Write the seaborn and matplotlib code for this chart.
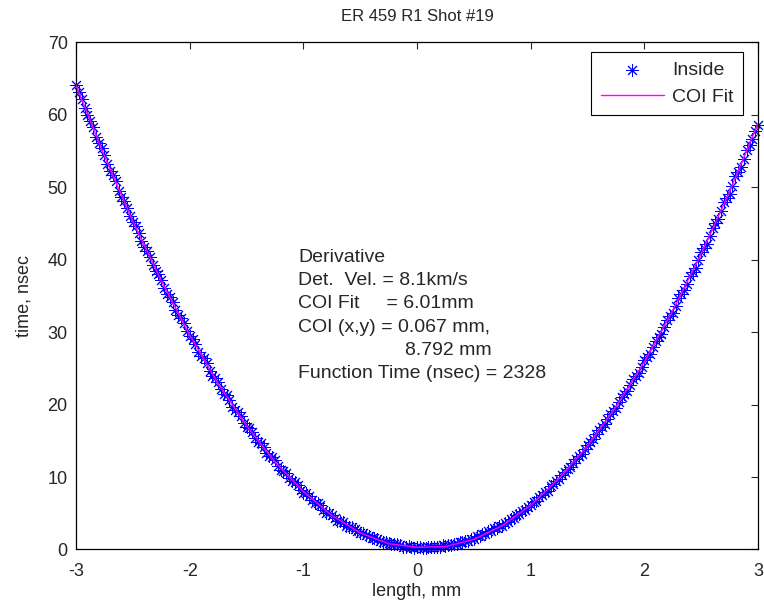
import numpy as np
import matplotlib
matplotlib.use("Agg")
import matplotlib.pyplot as plt
import seaborn as sns

length_mm = np.linspace(-3, 3, 241)
time_inside = [
    64.1, 63.2, 62.2, 61.0, 60.0, 59.2, 58.3, 57.0, 56.1, 55.4,
    54.5, 53.2, 52.3, 51.7, 50.8, 49.5, 48.7, 48.1, 47.2, 46.0,
    45.2, 44.6, 43.7, 42.6, 41.8, 41.2, 40.4, 39.3, 38.5, 38.0,
    37.2, 36.1, 35.3, 34.9, 34.1, 33.0, 32.3, 31.9, 31.2, 30.1,
    29.4, 29.0, 28.4, 27.3, 26.7, 26.4, 25.7, 24.7, 24.0, 23.7,
    23.1, 22.1, 21.5, 21.3, 20.7, 19.7, 19.2, 19.0, 18.4, 17.5,
    16.9, 16.8, 16.2, 15.4, 14.8, 14.7, 14.2, 13.3, 12.9, 12.8,
    12.3, 11.5, 11.0, 10.9, 10.5, 9.8, 9.4, 9.3, 8.9, 8.2,
    7.8, 7.8, 7.4, 6.8, 6.4, 6.4, 6.1, 5.4, 5.1, 5.1,
    4.8, 4.3, 4.0, 4.0, 3.8, 3.3, 3.1, 3.1, 2.8, 2.5,
    2.3, 2.3, 2.0, 1.8, 1.6, 1.6, 1.4, 1.2, 1.1, 1.1,
    0.9, 0.8, 0.7, 0.7, 0.6, 0.4, 0.4, 0.5, 0.4, 0.2,
    0.3, 0.4, 0.2, 0.2, 0.3, 0.4, 0.3, 0.3, 0.4, 0.6,
    0.5, 0.6, 0.6, 0.8, 0.8, 1.0, 1.0, 1.2, 1.2, 1.5,
    1.5, 1.8, 1.8, 2.1, 2.1, 2.5, 2.5, 2.9, 2.9, 3.3,
    3.3, 3.7, 3.8, 4.2, 4.3, 4.7, 4.9, 5.3, 5.4, 5.9,
    6.1, 6.5, 6.7, 7.2, 7.5, 7.9, 8.1, 8.7, 9.0, 9.5,
    9.7, 10.3, 10.7, 11.1, 11.4, 12.0, 12.5, 12.9, 13.2, 13.9,
    14.4, 14.9, 15.2, 15.9, 16.5, 16.9, 17.3, 18.0, 18.7, 19.1,
    19.5, 20.3, 21.0, 21.4, 21.9, 22.7, 23.5, 23.9, 24.4, 25.2,
    26.1, 26.5, 27.0, 27.9, 28.8, 29.3, 29.8, 30.7, 31.7, 32.2,
    32.7, 33.6, 34.7, 35.2, 35.8, 36.7, 37.8, 38.3, 38.9, 39.9,
    41.0, 41.6, 42.2, 43.2, 44.4, 45.0, 45.6, 46.7, 47.9, 48.5,
    49.1, 50.2, 51.5, 52.1, 52.8, 53.9, 55.2, 55.8, 56.6, 57.7,
    58.6,
]

# COI fit curve
fit_x = [-3, -2.75, -2.5, -2.25, -2, -1.75, -1.5, -1.25, -1, -0.75, -0.5, -0.25, 0,
         0.25, 0.5, 0.75, 1, 1.25, 1.5, 1.75, 2, 2.25, 2.5, 2.75, 3]
fit_t = [64.1, 54.3, 45.3, 37.1, 29.6, 22.9, 17.1, 12.1, 8.0, 4.7, 2.3, 0.8, 0.3,
         0.4, 1.4, 3.3, 6.1, 9.8, 14.3, 19.7, 25.9, 33.0, 40.8, 49.4, 58.8]

x_ticks = [-3, -2, -1, 0, 1, 2, 3]
y_ticks = [0, 10, 20, 30, 40, 50, 60, 70]

# (text, x offset in mm) for each line of the annotation
info_lines = [
    ("Derivative", 0.0),
    ("Det.  Vel. = 8.1km/s", 0.0),
    ("COI Fit     = 6.01mm", 0.0),
    ("COI (x,y) = 0.067 mm,", 0.0),
    ("8.792 mm", 0.94),
    ("Function Time (nsec) = 2328", 0.0),
]

sns.set_style("white")
plt.rcParams['font.family'] = ['Liberation Sans', 'DejaVu Sans']
plt.rcParams['axes.unicode_minus'] = False

fig = plt.figure(figsize=(7.64, 6.01), dpi=100)
ax = fig.add_axes([0.0995, 0.0857, 0.8927, 0.8439])

sns.scatterplot(x=length_mm, y=time_inside, marker=(8, 2, 0), s=75,
                color='#0000ff', edgecolor='#0000ff', linewidth=0.7,
                label='Inside', ax=ax, clip_on=False, zorder=2)
sns.lineplot(x=fit_x, y=fit_t, color='#ff00ff', linewidth=1.0,
             label='COI Fit', ax=ax, zorder=3)

ax.set_xlim(-3, 3)
ax.set_ylim(0, 70)
ax.set_xticks(x_ticks)
ax.set_yticks(y_ticks)
ax.tick_params(direction='in', top=True, right=True, length=5, width=0.8,
               labelsize=13)
ax.tick_params(axis='x', pad=10)
ax.tick_params(axis='y', pad=6)
for sp in ax.spines.values():
    sp.set_linewidth(0.9)
    sp.set_color('black')

ax.set_title('ER 459 R1 Shot #19', fontsize=12, pad=15)
ax.set_xlabel('length, mm', fontsize=13, labelpad=2)
ax.set_ylabel('time, nsec', fontsize=13, labelpad=11)

for i, (line, dx) in enumerate(info_lines):
    ax.text(-1.047 + dx, 39.7 - 3.21 * i, line, fontsize=14,
            ha='left', va='baseline')

leg = ax.legend(loc='upper right', bbox_to_anchor=(0.978, 0.981),
                borderaxespad=0, fontsize=14, fancybox=False, framealpha=1,
                edgecolor='black', handlelength=3.24, handletextpad=0.41,
                borderpad=0.5, labelspacing=0.45)
leg.get_frame().set_linewidth(0.8)

fig.savefig('out.png', dpi=100, facecolor='white')
